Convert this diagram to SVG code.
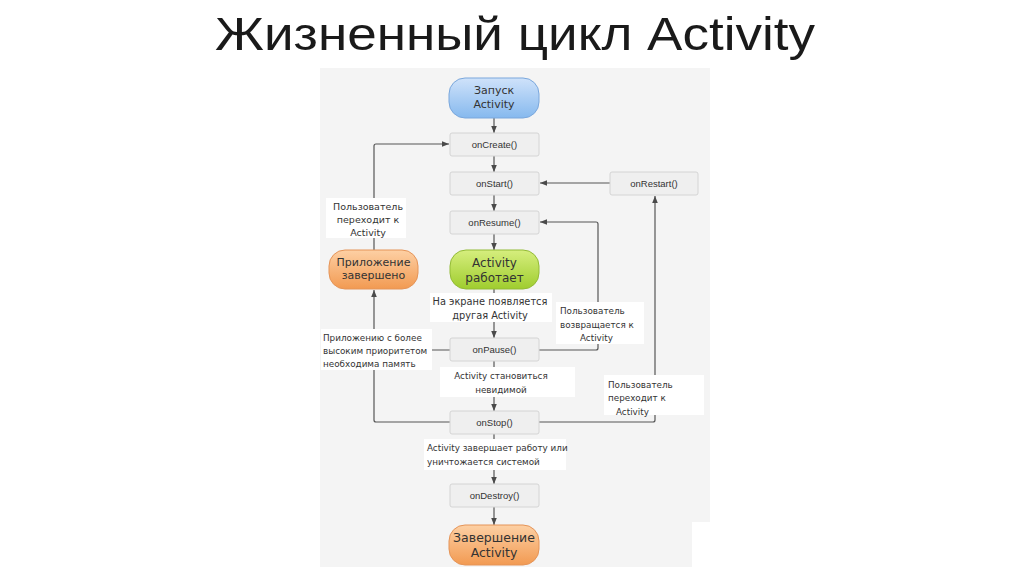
<svg xmlns="http://www.w3.org/2000/svg" width="1024" height="574" viewBox="0 0 1024 574">
<defs>
<linearGradient id="gBlue" x1="0" y1="0" x2="0" y2="1"><stop offset="0" stop-color="#cfe2fa"/><stop offset="1" stop-color="#86b9ee"/></linearGradient>
<linearGradient id="gGreen" x1="0" y1="0" x2="0" y2="1"><stop offset="0" stop-color="#d6ee7e"/><stop offset="1" stop-color="#9fcd2e"/></linearGradient>
<linearGradient id="gOrange" x1="0" y1="0" x2="0" y2="1"><stop offset="0" stop-color="#fdd0a4"/><stop offset="1" stop-color="#f29a52"/></linearGradient>
<marker id="arr" viewBox="0 0 10 10" refX="10" refY="5" markerWidth="7" markerHeight="7" markerUnits="userSpaceOnUse" orient="auto"><path d="M0,1 L10,5 L0,9 z" fill="#4a4a4a"/></marker>
</defs>
<style>
.title{font-family:"Liberation Sans",Arial,sans-serif;font-size:46px;fill:#1a1a1a}
.box{fill:#efefef;stroke:#d4d4d4;stroke-width:1}
.bt{font-family:"Liberation Sans",Arial,sans-serif;font-size:9.5px;fill:#333;text-anchor:middle}
.pt{font-family:"DejaVu Sans",Arial,sans-serif;font-size:11.5px;fill:#333;text-anchor:middle}
.lbl{font-family:"DejaVu Sans",Arial,sans-serif;font-size:8.8px;fill:#333}
.wb{fill:#ffffff}
.c{fill:none;stroke:#555;stroke-width:1.2}
</style>
<rect width="1024" height="574" fill="#ffffff"/>
<text class="title" x="515" y="50" text-anchor="middle" textLength="600" lengthAdjust="spacingAndGlyphs">Жизненный цикл Activity</text>
<path d="M320,68 H710 V522 H692 V567 H320 Z" fill="#f4f4f4"/>

<g id="connectors">
<path class="c" d="M494,118 V133" marker-end="url(#arr)"/>
<path class="c" d="M494,156 V172" marker-end="url(#arr)"/>
<path class="c" d="M494,195 V211" marker-end="url(#arr)"/>
<path class="c" d="M494,234 V250" marker-end="url(#arr)"/>
<path class="c" d="M494,289 V338" marker-end="url(#arr)"/>
<path class="c" d="M494,361 V411" marker-end="url(#arr)"/>
<path class="c" d="M494,434 V484" marker-end="url(#arr)"/>
<path class="c" d="M494,507 V525" marker-end="url(#arr)"/>
<path class="c" d="M610,183 H540" marker-end="url(#arr)"/>
<path class="c" d="M539,350 H596 Q598,350 598,348 V224 Q598,222 596,222 H540" marker-end="url(#arr)"/>
<path class="c" d="M539,422 H653 Q655,422 655,420 V196" marker-end="url(#arr)"/>
<path class="c" d="M450,422 H376 Q374,422 374,420 V290" marker-end="url(#arr)"/>
<path class="c" d="M450,350 H374"/>
<path class="c" d="M374,250 V146 Q374,144 376,144 H449" marker-end="url(#arr)"/>
</g>

<g id="labels">
<rect class="wb" x="326" y="198" width="80" height="40"/>
<text class="lbl" text-anchor="middle" style="font-size:9.5px"><tspan x="368" y="210">Пользователь</tspan><tspan x="368" y="223">переходит к</tspan><tspan x="368" y="236">Activity</tspan></text>
<rect class="wb" x="321" y="329" width="111" height="41"/>
<text class="lbl"><tspan x="323" y="341">Приложению с более</tspan><tspan x="323" y="354">высоким приоритетом</tspan><tspan x="323" y="367">необходима память</tspan></text>
<rect class="wb" x="430" y="293" width="122" height="29"/>
<text class="lbl" text-anchor="middle" style="font-size:9.8px"><tspan x="490" y="305">На экране появляется</tspan><tspan x="490" y="319">другая Activity</tspan></text>
<rect class="wb" x="556" y="302" width="88" height="42"/>
<text class="lbl"><tspan x="560" y="314">Пользователь</tspan><tspan x="560" y="328">возвращается к</tspan><tspan x="580" y="341">Activity</tspan></text>
<rect class="wb" x="440" y="367" width="135" height="30"/>
<text class="lbl" text-anchor="middle"><tspan x="501" y="379">Activity становиться</tspan><tspan x="501" y="393">невидимой</tspan></text>
<rect class="wb" x="604" y="375" width="100" height="40"/>
<text class="lbl"><tspan x="608" y="388">Пользователь</tspan><tspan x="608" y="401">переходит к</tspan><tspan x="616" y="415">Activity</tspan></text>
<rect class="wb" x="424" y="439" width="142" height="31"/>
<text class="lbl"><tspan x="427" y="451">Activity завершает работу или</tspan><tspan x="427" y="465">уничтожается системой</tspan></text>
</g>

<g id="n-launch"><rect x="449" y="78" width="90" height="40" rx="16" fill="url(#gBlue)" stroke="#7aa7dc"/><text class="pt" style="font-size:11px"><tspan x="494" y="94">Запуск</tspan><tspan x="494" y="108">Activity</tspan></text></g>
<g id="n-oncreate"><rect class="box" x="450" y="133" width="89" height="23" rx="2"/><text class="bt" x="494.5" y="148">onCreate()</text></g>
<g id="n-onstart"><rect class="box" x="450" y="172" width="89" height="23" rx="2"/><text class="bt" x="494.5" y="187">onStart()</text></g>
<g id="n-onrestart"><rect class="box" x="610" y="172" width="88" height="23" rx="2"/><text class="bt" x="654" y="187">onRestart()</text></g>
<g id="n-onresume"><rect class="box" x="450" y="211" width="89" height="23" rx="2"/><text class="bt" x="494.5" y="226">onResume()</text></g>
<g id="n-running"><rect x="450" y="250" width="89" height="39" rx="16" fill="url(#gGreen)" stroke="#93bb36"/><text class="pt" style="font-size:12px"><tspan x="494.5" y="267">Activity</tspan><tspan x="494.5" y="282">работает</tspan></text></g>
<g id="n-killed"><rect x="329" y="250" width="89" height="39" rx="16" fill="url(#gOrange)" stroke="#e59458"/><text class="pt" style="font-size:11px"><tspan x="373.5" y="266">Приложение</tspan><tspan x="373.5" y="279">завершено</tspan></text></g>
<g id="n-onpause"><rect class="box" x="450" y="338" width="89" height="23" rx="2"/><text class="bt" x="494.5" y="353">onPause()</text></g>
<g id="n-onstop"><rect class="box" x="450" y="411" width="89" height="23" rx="2"/><text class="bt" x="494.5" y="426">onStop()</text></g>
<g id="n-ondestroy"><rect class="box" x="450" y="484" width="89" height="23" rx="2"/><text class="bt" x="494.5" y="499">onDestroy()</text></g>
<g id="n-end"><rect x="449" y="525" width="90" height="40" rx="16" fill="url(#gOrange)" stroke="#e59458"/><text class="pt" style="font-size:12.5px"><tspan x="494" y="542">Завершение</tspan><tspan x="494" y="557">Activity</tspan></text></g>
</svg>
